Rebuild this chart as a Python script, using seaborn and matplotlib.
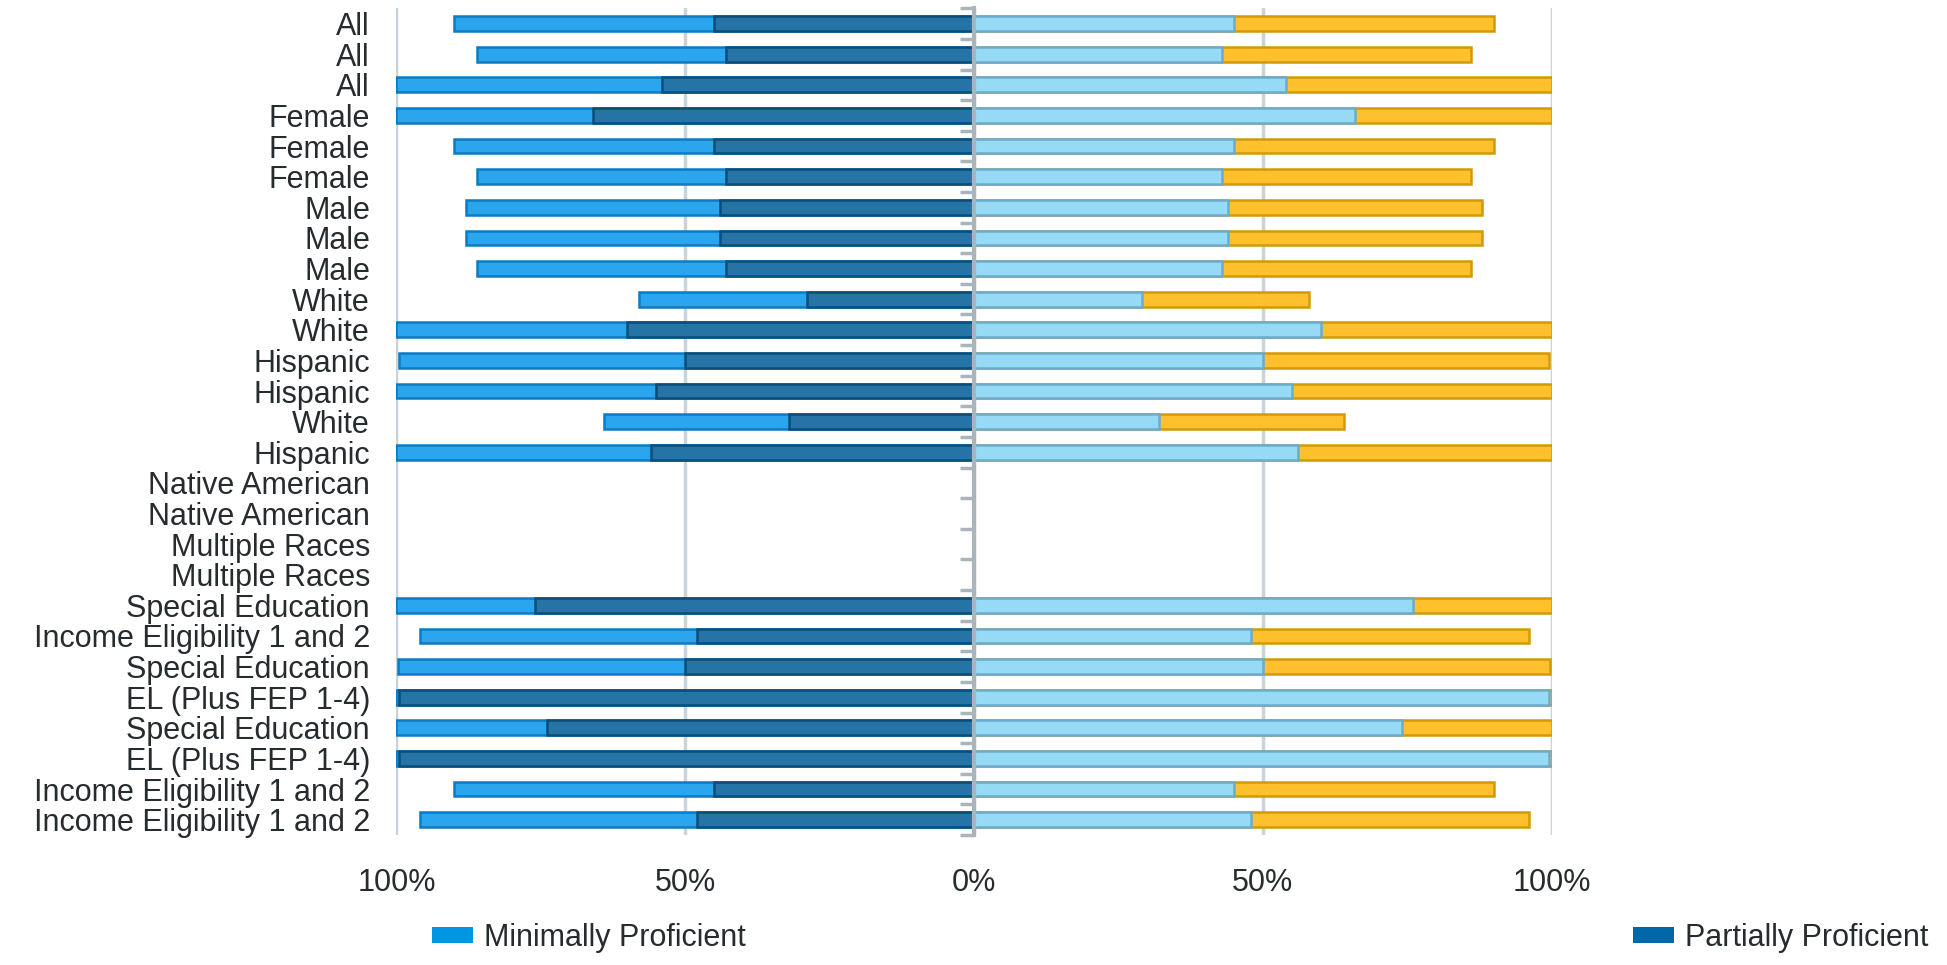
import numpy as np
import pandas as pd
import matplotlib
matplotlib.use("Agg")
import matplotlib.pyplot as plt
import seaborn as sns
from matplotlib.patches import Patch

# Student groups, top to bottom
groups = [
    "All", "All", "All",
    "Female", "Female", "Female",
    "Male", "Male", "Male",
    "White", "White", "Hispanic", "Hispanic", "White", "Hispanic",
    "Native American", "Native American", "Multiple Races", "Multiple Races",
    "Special Education", "Income Eligibility 1 and 2", "Special Education",
    "EL (Plus FEP 1-4)", "Special Education", "EL (Plus FEP 1-4)",
    "Income Eligibility 1 and 2", "Income Eligibility 1 and 2",
]

# Percent of students per level (inner segment next to 0%, outer segment beyond it)
partially = [45, 43, 54, 66, 45, 43, 44, 44, 43, 29, 60, 50, 55, 32, 56,
             0, 0, 0, 0, 76, 48, 50, 99.5, 74, 99.5, 45, 48]
minimally = [45, 43, 46, 34, 45, 43, 44, 44, 43, 29, 40, 49.6, 45, 32, 44,
             0, 0, 0, 0, 24, 48, 49.7, 0.5, 26, 0.5, 45, 48]

x_ticks = [-100, -50, 0, 50, 100]
x_labels = ["100%", "50%", "0%", "50%", "100%"]
legend_labels = ["Minimally Proficient", "Partially Proficient"]

TEXT = "#262b2e"
AXIS_GRAY = "#a9b4bb"
GRID = "#c9d3da"
FS = 22

sns.set_theme(style="white")
plt.rcParams["font.family"] = ["Liberation Sans", "DejaVu Sans"]

n = len(groups)
df = pd.DataFrame({
    "row": [f"r{i}" for i in range(n)],
    "group": groups,
    "partially": partially,
    "minimally": minimally,
})
df["left_total"] = -(df["partially"] + df["minimally"])
df["left_inner"] = -df["partially"]
df["right_total"] = df["partially"] + df["minimally"]
df["right_inner"] = df["partially"]

fig = plt.figure(figsize=(19.47, 9.65), dpi=100)
ax = fig.add_axes([0.2036, 0.1347, 0.5934, 0.8567])

common = dict(data=df, y="row", order=df["row"].tolist(), orient="h",
              width=0.48, saturation=1, errorbar=None, ax=ax, linewidth=1.8)

# Left side: outer segment first, inner segment drawn over it
sns.barplot(x="left_total", color="#2aa5ee", edgecolor="#0c7bc1", **common)
sns.barplot(x="left_inner", color="#2674a5", edgecolor="#0a4d79", **common)
# Right side
sns.barplot(x="right_total", color="#ffc02d", edgecolor="#d29a05", **common)
sns.barplot(x="right_inner", color="#97daf6", edgecolor="#6aacce", **common)

ax.set_xlim(-100, 100)
ax.set_ylim(n - 0.5, -0.5)
ax.set_xticks(x_ticks)
ax.set_xticklabels(x_labels)
ax.set_yticks(range(n))
ax.set_yticklabels(groups)
ax.set_xlabel("")
ax.set_ylabel("")

ax.grid(axis="x", color=GRID, linewidth=2.5)
ax.grid(axis="y", visible=False)
ax.set_axisbelow(True)
for s in ax.spines.values():
    s.set_visible(False)

ax.tick_params(axis="y", length=0, pad=19, labelsize=FS, labelcolor=TEXT)
ax.tick_params(axis="x", length=0, pad=24, labelsize=FS, labelcolor=TEXT)

# Category axis crossing at 0% with ticks between rows
sec = ax.secondary_yaxis(0.5)
sec.set_alignment("left")
sec.set_yticks(np.arange(-0.5, n, 1.0))
sec.set_yticklabels([])
sec.tick_params(axis="y", length=10, width=2.5, color=AXIS_GRAY, direction="out")
sec.spines["left"].set_color(AXIS_GRAY)
sec.spines["left"].set_linewidth(3)
sec.set_zorder(5)

leg_kw = dict(loc="center left", frameon=False, fontsize=FS, labelcolor=TEXT,
              handlelength=1.34, handleheight=0.42, handletextpad=0.36,
              borderpad=0, borderaxespad=0)
fig.legend(handles=[Patch(facecolor="#0096e6", edgecolor="none")],
           labels=[legend_labels[0]], bbox_to_anchor=(0.2219, 0.028), **leg_kw)
fig.legend(handles=[Patch(facecolor="#0068a8", edgecolor="none")],
           labels=[legend_labels[1]], bbox_to_anchor=(0.8387, 0.028), **leg_kw)

fig.savefig("out.png", dpi=100)
